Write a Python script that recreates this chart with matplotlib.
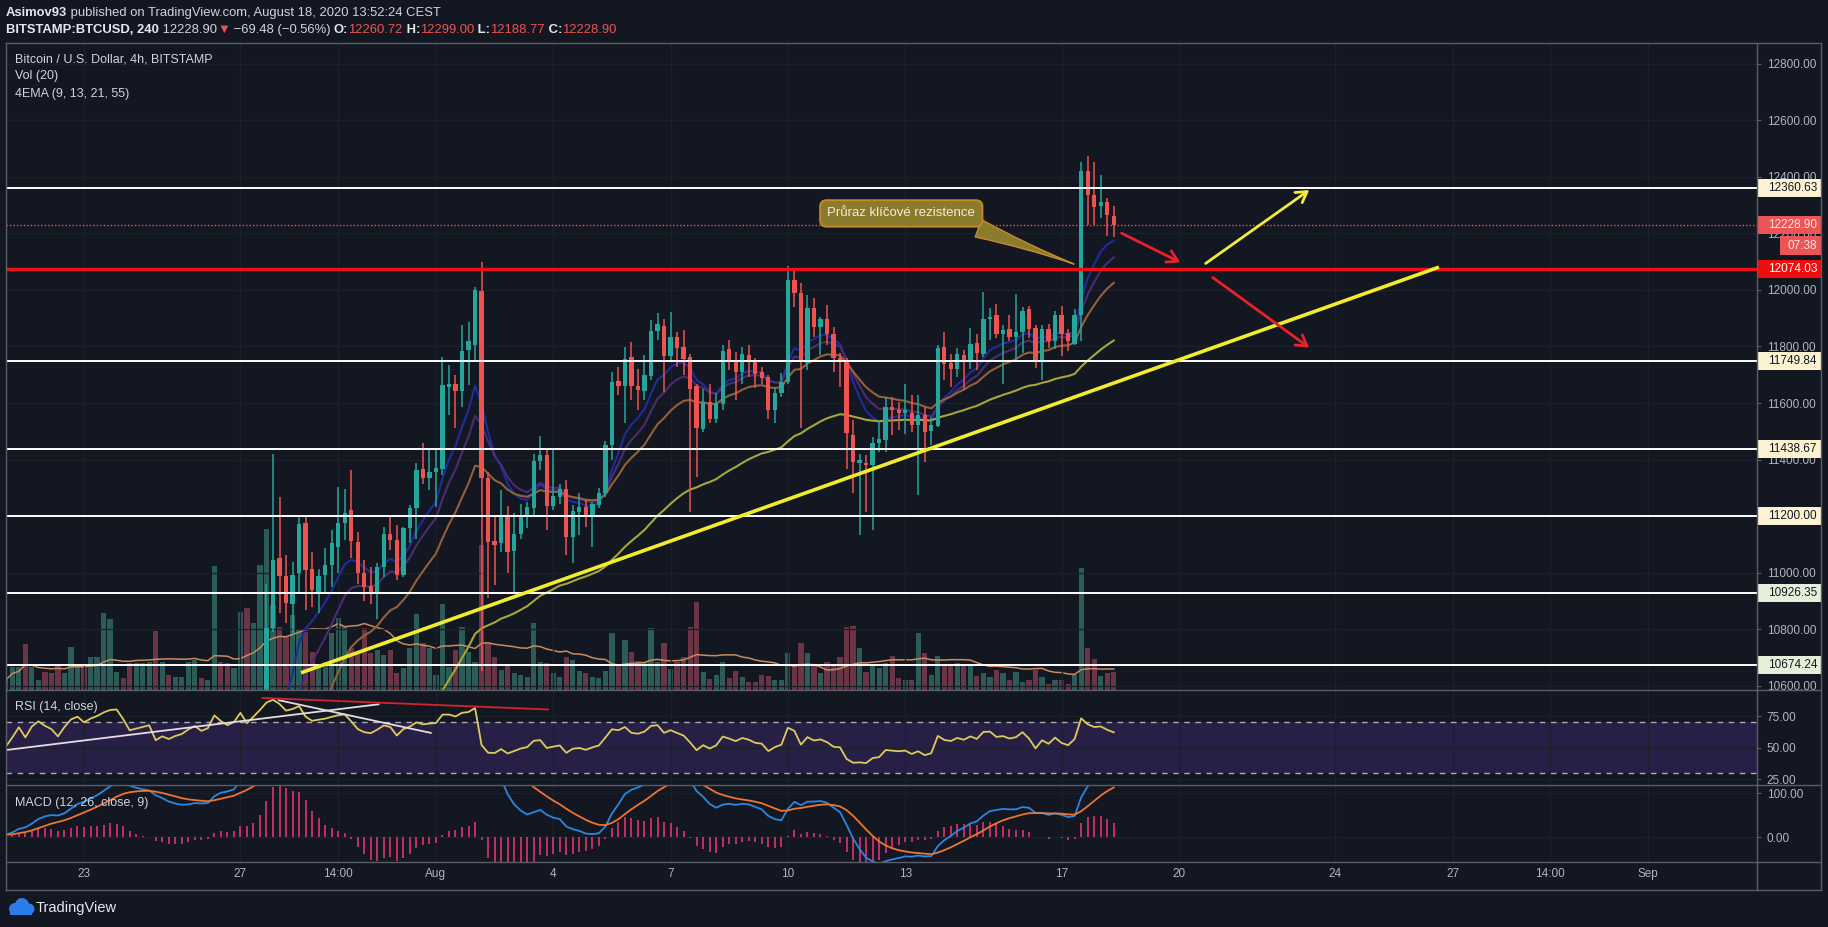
import numpy as np
import pandas as pd
import matplotlib
matplotlib.use("Agg")
import matplotlib.pyplot as plt
from matplotlib.patches import Rectangle, Circle
from matplotlib.lines import Line2D
from matplotlib import transforms as mtrans

plt.rcParams['font.family'] = ['Liberation Sans', 'DejaVu Sans']

# ---------------------------------------------------------------- data
start_time = '2020-07-21 00:00'          # first 4h bar on the chart (UTC)
bar_hours = 4

# closes of the bars before the chart (used only to warm up the indicators)
warmup_close = [9130, 9110, 9140, 9160, 9120, 9100, 9120, 9150, 9170, 9140,
                9160, 9180, 9170, 9150, 9160, 9190, 9200, 9170, 9160, 9140,
                9150, 9170, 9160, 9140, 9150, 9170, 9180, 9160, 9150, 9160]

# closes of the first 40 bars (below the visible price range)
early_close = [9190, 9230, 9290, 9250, 9330, 9380,
               9360, 9345, 9310, 9390, 9480, 9520,
               9490, 9540, 9580, 9640, 9690, 9700,
               9650, 9580, 9600, 9620, 9640, 9540,
               9580, 9560, 9590, 9610, 9660, 9700,
               9670, 9700, 9900, 9860, 9830, 9880,
               10080, 9990, 10150, 10380]

# OHLC of the visible candles (bar 40 .. 170)
vis_open = [10380, 10802, 11050, 10988, 10890, 10999, 11176, 11014, 10932, 10990,
            11026, 11091, 11174, 11221, 11109, 10997, 10952, 10932, 11020, 11138,
            11115, 10991, 11156, 11227, 11368, 11333, 11357, 11365, 11657, 11667,
            11643, 11787, 11805, 11997, 11333, 11112, 11103, 11200, 11077, 11138,
            11197, 11227, 11395, 11415, 11235, 11268, 11297, 11126, 11215, 11232,
            11195, 11238, 11280, 11451, 11679, 11660, 11764, 11660, 11643, 11695,
            11856, 11872, 11766, 11834, 11797, 11764, 11661, 11508, 11604, 11545,
            11596, 11790, 11752, 11711, 11770, 11746, 11710, 11693, 11575, 11636,
            11675, 12035, 11990, 11742, 11935, 11870, 11896, 11846, 11758, 11749,
            11486, 11388, 11386, 11380, 11457, 11469, 11587, 11575, 11565, 11565,
            11522, 11557, 11500, 11518, 11799, 11740, 11719, 11770, 11752, 11811,
            11773, 11899, 11913, 11843, 11862, 11833, 11853, 11932, 11866, 11748,
            11862, 11818, 11913, 11848, 11808, 11913, 12420, 12338, 12297, 12310, 12260.72]
vis_high = [10961, 11419, 11268, 11061, 11038, 11197, 11195, 11073, 11011, 11085,
            11152, 11303, 11297, 11362, 11144, 11044, 11020, 11032, 11162, 11195,
            11168, 11162, 11238, 11386, 11459, 11439, 11439, 11764, 11734, 11699,
            11876, 11887, 12010, 12100, 11357, 11197, 11292, 11235, 11209, 11242,
            11250, 11419, 11483, 11433, 11439, 11315, 11329, 11238, 11280, 11256,
            11250, 11298, 11467, 11710, 11728, 11799, 11817, 11722, 11770, 11893,
            11917, 11899, 11923, 11852, 11860, 11775, 11669, 11648, 11669, 11634,
            11805, 11823, 11781, 11799, 11805, 11758, 11728, 11699, 11657, 11705,
            12085, 12076, 12023, 11982, 11970, 11905, 11947, 11870, 11778, 11758,
            11539, 11421, 11415, 11480, 11539, 11622, 11622, 11604, 11667, 11628,
            11628, 11587, 11551, 11805, 11852, 11775, 11793, 11787, 11864, 11846,
            11994, 11935, 11951, 11875, 11913, 11985, 11939, 11945, 11875, 11875,
            11881, 11926, 11945, 11862, 11932, 12452, 12474, 12452, 12407, 12325, 12299.00]
vis_low = [10350, 10790, 10855, 10820, 10785, 10926, 10867, 10879, 10855, 10932,
           10949, 10997, 11115, 11050, 10961, 10900, 10890, 10837, 10985, 11079,
           10973, 10985, 11103, 11120, 11315, 11292, 11232, 11345, 11557, 11510,
           11587, 11663, 11752, 10650, 10908, 10955, 11073, 10997, 10932, 11120,
           11156, 11195, 11362, 11150, 11221, 11244, 11062, 11032, 11132, 11162,
           11091, 11227, 11268, 11398, 11628, 11528, 11610, 11575, 11610, 11681,
           11823, 11640, 11746, 11728, 11699, 11215, 11339, 11498, 11528, 11528,
           11575, 11716, 11610, 11669, 11693, 11652, 11669, 11545, 11528, 11622,
           11669, 11941, 11510, 11716, 11834, 11770, 11805, 11711, 11657, 11368,
           11280, 11132, 11215, 11150, 11427, 11427, 11486, 11504, 11492, 11498,
           11274, 11392, 11451, 11516, 11683, 11657, 11693, 11645, 11722, 11716,
           11764, 11823, 11831, 11666, 11818, 11755, 11778, 11831, 11723, 11681,
           11795, 11790, 11767, 11783, 11805, 11818, 12230, 12230, 12256, 12192, 12188.77]
vis_close = [10802, 11046, 10988, 10893, 10990, 11171, 11008, 10937, 10987, 11028,
             11103, 11174, 11209, 11112, 10997, 10947, 10932, 11020, 11138, 11115,
             10991, 11156, 11227, 11362, 11333, 11357, 11371, 11663, 11667, 11643,
             11785, 11819, 12000, 11333, 11109, 11097, 11200, 11073, 11136, 11197,
             11232, 11395, 11415, 11235, 11270, 11297, 11126, 11217, 11232, 11195,
             11241, 11280, 11451, 11675, 11660, 11754, 11660, 11646, 11699, 11856,
             11879, 11766, 11834, 11793, 11755, 11648, 11510, 11604, 11542, 11601,
             11785, 11752, 11711, 11775, 11749, 11702, 11690, 11575, 11636, 11675,
             12037, 11990, 11750, 11935, 11870, 11896, 11846, 11758, 11746, 11495,
             11392, 11398, 11380, 11457, 11472, 11587, 11575, 11565, 11575, 11522,
             11557, 11498, 11522, 11793, 11738, 11722, 11775, 11752, 11808, 11778,
             11899, 11905, 11846, 11859, 11833, 11853, 11926, 11862, 11748, 11862,
             11818, 11913, 11846, 11818, 11910, 12420, 12335, 12294, 12310, 12264, 12228.90]

# volume of every bar (bar 0 .. 170)
volume = [120, 276, 276, 548, 276, 120, 216, 200, 312, 200,
          520, 280, 280, 400, 400, 928, 852, 220, 140, 320,
          328, 320, 340, 712, 340, 180, 160, 160, 340, 360,
          140, 120, 1488, 340, 320, 260, 940, 980, 800, 1500,
          1932, 1020, 760, 640, 900, 720, 700, 460, 280, 340,
          680, 860, 760, 500, 440, 740, 440, 480, 420, 480,
          208, 260, 500, 908, 560, 500, 180, 1028, 280, 480,
          760, 460, 340, 1740, 560, 400, 240, 300, 200, 180,
          160, 800, 340, 320, 200, 160, 400, 360, 232, 200,
          152, 140, 232, 680, 300, 600, 460, 352, 340, 740,
          340, 560, 252, 340, 400, 760, 1060, 220, 128, 180,
          340, 140, 232, 152, 100, 100, 180, 172, 120, 120,
          448, 300, 568, 448, 300, 208, 340, 300, 400, 760,
          768, 508, 220, 300, 260, 328, 408, 140, 120, 120,
          688, 448, 180, 408, 288, 300, 328, 300, 300, 168,
          208, 160, 240, 208, 120, 220, 100, 120, 240, 160,
          72, 120, 120, 72, 180, 1460, 500, 368, 168, 208, 220]

ema_periods = [9, 13, 21, 55]
ema_colors = ['#1f2c9c', '#4b2c72', '#93603a', '#a7a63a']

price_ticks = [10600, 10800, 11000, 11200, 11400, 11600, 11800, 12000, 12200, 12400, 12600, 12800]
rsi_ticks = [25, 50, 75]
macd_ticks = [0, 100]

time_tick_times = ['2020-07-23 00:00', '2020-07-27 00:00', '2020-07-29 12:00', '2020-08-01 00:00',
                   '2020-08-04 00:00', '2020-08-07 00:00', '2020-08-10 00:00', '2020-08-13 00:00',
                   '2020-08-17 00:00', '2020-08-20 00:00', '2020-08-24 00:00', '2020-08-27 00:00',
                   '2020-08-29 12:00', '2020-09-01 00:00']
time_tick_labels = ['23', '27', '14:00', 'Aug', '4', '7', '10', '13', '17', '20', '24', '27', '14:00', 'Sep']

levels_cream = [12360.63, 11749.84, 11438.67, 11200.00]
levels_green = [10926.35, 10674.24]
level_red = 12074.03
last_price = 12228.90
countdown = '07:38'

# author's drawings: (bar index, value) end points
trend_line = [(45.3, 10645), (219.9, 12081)]
arrow_red1 = [(171.2, 12201), (180.2, 12098)]
arrow_yellow = [(184.1, 12094), (200.0, 12354)]
arrow_red2 = [(185.2, 12044), (200.0, 11796)]
callout_text = 'Průraz klíčové rezistence'
callout_at = (137.4, 12271)
callout_tip = (164.3, 12088.5)
rsi_white1 = [(0.1, 48.2), (57.2, 84.3)]
rsi_white2 = [(41.9, 87.5), (65.2, 61.7)]
rsi_red = [(39.4, 89.3), (83.2, 80.2)]

# ---------------------------------------------------------------- derived series
n_early = len(early_close)
n_bars = n_early + len(vis_close)
t0 = pd.Timestamp(start_time)
times = pd.date_range(t0, periods=n_bars, freq=f'{bar_hours}h')
idx = ((times - t0) / pd.Timedelta(hours=bar_hours)).values.astype(float)
vis_idx = idx[n_early:]

close_all = np.array(early_close + vis_close, dtype=float)
open_all = np.concatenate([[warmup_close[-1]], np.array(early_close[:-1], float), np.array(vis_open, float)])
full_close = pd.Series(warmup_close + early_close + vis_close, dtype=float)
nw = len(warmup_close)

emas = [full_close.ewm(span=p, adjust=False).mean().values[nw:] for p in ema_periods]

delta = full_close.diff()
gain = delta.clip(lower=0).ewm(alpha=1 / 14, adjust=False).mean()
loss = (-delta.clip(upper=0)).ewm(alpha=1 / 14, adjust=False).mean()
rsi = (100 - 100 / (1 + gain / loss)).values[nw:]

macd_s = (full_close.ewm(span=12, adjust=False).mean() - full_close.ewm(span=26, adjust=False).mean())
signal_s = macd_s.ewm(span=9, adjust=False).mean()
hist = (macd_s - signal_s).values[nw:]
macd_line = macd_s.values[nw:]
signal_line = signal_s.values[nw:]

vol = np.array(volume, dtype=float)
vol_ma = pd.Series(vol).rolling(20, min_periods=1).mean().values

tick_pos = ((pd.to_datetime(time_tick_times) - t0) / pd.Timedelta(hours=bar_hours)).values.astype(float)

# ---------------------------------------------------------------- style / layout
W, H = 1828, 927
BG = '#131722'
GRID = '#1c202b'
BORDER = '#5a5e69'
TXT = '#d1d4dc'
AXT = '#b2b5be'
UP, DOWN = '#26a69a', '#ef5350'
VOL_UP, VOL_DN = '#2b5c58', '#6b3545'

fig = plt.figure(figsize=(W / 100, H / 100), dpi=100, facecolor=BG)


def rect(x0, y0, x1, y1):
    return [x0 / W, 1 - y1 / H, (x1 - x0) / W, (y1 - y0) / H]


PX0, PX1 = 6, 1757
ax_vol = fig.add_axes(rect(PX0, 43, PX1, 690))
ax = fig.add_axes(rect(PX0, 43, PX1, 690), sharex=ax_vol)
ax_rsi = fig.add_axes(rect(PX0, 690, PX1, 785), sharex=ax_vol)
ax_macd = fig.add_axes(rect(PX0, 785, PX1, 862), sharex=ax_vol)

ax_vol.set_facecolor(BG)
ax.set_facecolor('none')
ax_rsi.set_facecolor(BG)
ax_macd.set_facecolor(BG)
for a in (ax_vol, ax, ax_rsi, ax_macd):
    for s in a.spines.values():
        s.set_visible(False)

ax_vol.set_xlim(0.03, 268.7)
ax_vol.set_xticks(tick_pos)
ax_macd.set_xticks(tick_pos, time_tick_labels)
for a in (ax_vol, ax, ax_rsi):
    a.tick_params(axis='x', length=0, labelbottom=False)
ax_macd.tick_params(axis='x', length=0, pad=4.5, labelcolor=AXT, labelsize=8.5)

# ---- volume
vol_colors = np.where(close_all >= open_all, VOL_UP, VOL_DN)
ax_vol.bar(idx, vol, width=0.8, color=vol_colors, linewidth=0, zorder=1)
ax_vol.plot(idx, vol_ma, color='#c98b5e', lw=1.1, zorder=2)
ax_vol.set_ylim(0, 7764)
ax_vol.set_yticks([])

# ---- price
P_BOT, P_TOP = 10584.1, 12874.3
ax.set_ylim(P_BOT, P_TOP)
ax.yaxis.tick_right()
ax.set_yticks(price_ticks, [f'{v:.2f}' for v in price_ticks])
ax.tick_params(axis='y', length=3, pad=4, color=BORDER, labelcolor=AXT, labelsize=8.5)
ax.grid(True, color=GRID, lw=1, zorder=0)
ax.set_axisbelow(True)

for e, c in zip(emas, ema_colors):
    ax.plot(idx, e, color=c, lw=1.5, zorder=3)

vo, vh, vl, vc = (np.array(a, float) for a in (vis_open, vis_high, vis_low, vis_close))
cc = np.where(vc >= vo, UP, DOWN)
ax.vlines(vis_idx, np.minimum(vl, np.minimum(vo, vc)), np.maximum(vh, np.maximum(vo, vc)),
          colors=cc, lw=1.1, zorder=4)
body_lo = np.minimum(vo, vc)
body_h = np.maximum(np.abs(vc - vo), 3.0)
ax.bar(vis_idx, body_h, bottom=body_lo, width=0.66, color=cc, linewidth=0, zorder=4.5)

for lv in levels_cream + levels_green:
    ax.axhline(lv, color='#ffffff', lw=1.4, zorder=5)
ax.axhline(level_red, color='#f01010', lw=2.4, zorder=5)
ax.axhline(last_price, color='#ef5350', lw=1.0, ls=(0, (1, 1.5)), zorder=5)

ax.plot([p[0] for p in trend_line], [p[1] for p in trend_line], color='#f2ec2e', lw=2.6, zorder=6,
        solid_capstyle='butt')

for (p0, p1), col in ((arrow_red1, '#e8222a'), (arrow_yellow, '#f2ec3a'), (arrow_red2, '#e8222a')):
    ax.annotate('', xy=p1, xytext=p0, zorder=7,
                arrowprops=dict(arrowstyle='->,head_length=0.75,head_width=0.45', color=col, lw=2.0,
                                shrinkA=0, shrinkB=0))

ax.annotate(callout_text, xy=callout_tip, xytext=callout_at, ha='center', va='center',
            fontsize=9.5, color='#f4ecd4', zorder=8,
            bbox=dict(boxstyle='round,pad=0.55,rounding_size=0.5', fc='#8a7c2c', ec='#c8892c', lw=1.3),
            arrowprops=dict(arrowstyle='wedge,tail_width=1.4,shrink_factor=0.35', fc='#8a7c2c',
                            ec='#c8892c', lw=1.0, relpos=(0.85, 0.05)))

# price axis label boxes
blend = mtrans.blended_transform_factory(ax.transAxes, ax.transData)
ppx = (P_TOP - P_BOT) / (690 - 43)


def price_label(value, text, fc, tc, x0=1757, x1=1821, y_off_px=0.0, half=9.0):
    yc = value - y_off_px * ppx
    fx0 = (x0 - PX0) / (PX1 - PX0)
    fx1 = (x1 - PX0) / (PX1 - PX0)
    ax.add_patch(Rectangle((fx0, yc - half * ppx), fx1 - fx0, 2 * half * ppx, transform=blend,
                           fc=fc, ec='none', clip_on=False, zorder=20))
    tx = fx0 + (11 if x0 == 1757 else 8) / (PX1 - PX0)
    ax.text(tx, yc, text, transform=blend, ha='left', va='center', color=tc, fontsize=8.5,
            clip_on=False, zorder=21)


for lv in levels_cream:
    price_label(lv, f'{lv:.2f}', '#fcf2d2', '#131722')
for lv in levels_green:
    price_label(lv, f'{lv:.2f}', '#e2f0da', '#131722')
price_label(level_red, f'{level_red:.2f}', '#f20d0d', '#ffffff')
price_label(last_price, f'{last_price:.2f}', '#ec5456', '#fbe6e6')
price_label(last_price, countdown, '#ec5456', '#fbe6e6', x0=1780, y_off_px=20.5, half=9.5)

# ---- RSI
R_BOT, R_TOP = 20.54, 95.58
ax_rsi.set_ylim(R_BOT, R_TOP)
ax_rsi.axhspan(30, 70, color='#281f47', lw=0, zorder=0.5)
for lv in (30, 70):
    ax_rsi.axhline(lv, color='#a9abb3', lw=1.0, ls=(0, (4, 4)), zorder=1)
ax_rsi.plot(idx, rsi, color='#dccb5a', lw=1.3, zorder=3)
for seg, col in ((rsi_white1, '#e6dbe3'), (rsi_white2, '#e6dbe3'), (rsi_red, '#d4232a')):
    ax_rsi.plot([p[0] for p in seg], [p[1] for p in seg], color=col, lw=1.3, zorder=4)
ax_rsi.yaxis.tick_right()
ax_rsi.set_yticks(rsi_ticks, [f'{v:.2f}' for v in rsi_ticks])
ax_rsi.tick_params(axis='y', length=3, pad=4, color=BORDER, labelcolor=AXT, labelsize=8.5)
ax_rsi.grid(True, color=GRID, lw=1, zorder=0)
ax_rsi.set_axisbelow(True)

# ---- MACD
ax_macd.set_ylim(-56.1, 118.9)
ax_macd.vlines(idx, 0, hist, colors='#e2336f', lw=1.2, zorder=2)
ax_macd.plot(idx, macd_line, color='#2a86e0', lw=1.3, zorder=3)
ax_macd.plot(idx, signal_line, color='#ee7430', lw=1.3, zorder=3)
ax_macd.yaxis.tick_right()
ax_macd.set_yticks(macd_ticks, [f'{v:.2f}' for v in macd_ticks])
ax_macd.tick_params(axis='y', length=3, pad=4, color=BORDER, labelcolor=AXT, labelsize=8.5)
ax_macd.grid(True, color=GRID, lw=1, zorder=0)
ax_macd.set_axisbelow(True)


# ---------------------------------------------------------------- frame lines
def hline_px(y, x0=6, x1=1821, color=BORDER, lw=1.0):
    fig.add_artist(Line2D([x0 / W, x1 / W], [1 - y / H, 1 - y / H], color=color, lw=lw,
                          transform=fig.transFigure))


def vline_px(x, y0=43, y1=890, color=BORDER, lw=1.0):
    fig.add_artist(Line2D([x / W, x / W], [1 - y0 / H, 1 - y1 / H], color=color, lw=lw,
                          transform=fig.transFigure))


for y in (43, 690, 785, 862, 890):
    hline_px(y)
for x in (6, 1757, 1821):
    vline_px(x)

# ---------------------------------------------------------------- texts
renderer = fig.canvas.get_renderer()


def chain(parts, x, y, size):
    for s, col, wt in parts:
        t = fig.text(x / W, 1 - y / H, s, color=col, fontsize=size, fontweight=wt, va='center', ha='left')
        x += t.get_window_extent(renderer).width


chain([('Asimov93', '#e6e8ee', 'bold'),
       (' published on TradingView.com, August 18, 2020 13:52:24 CEST', TXT, 'normal')], 6, 13, 9.4)
chain([('BITSTAMP:BTCUSD, 240', '#e6e8ee', 'bold'), (' 12228.90', TXT, 'normal'),
       ('▼', '#ef5350', 'normal'), (' −69.48 (−0.56%) ', TXT, 'normal'),
       ('O:', '#e6e8ee', 'bold'), ('12260.72', '#ef5350', 'normal'),
       (' H:', '#e6e8ee', 'bold'), ('12299.00', '#ef5350', 'normal'),
       (' L:', '#e6e8ee', 'bold'), ('12188.77', '#ef5350', 'normal'),
       (' C:', '#e6e8ee', 'bold'), ('12228.90', '#ef5350', 'normal')], 6, 30, 9.4)

for s, y in (('Bitcoin / U.S. Dollar, 4h, BITSTAMP', 59.5), ('Vol (20)', 76.5), ('4EMA (9, 13, 21, 55)', 93.5)):
    fig.text(15 / W, 1 - y / H, s, color=TXT, fontsize=9.0, va='center', ha='left')
fig.text(15 / W, 1 - 707 / H, 'RSI (14, close)', color=TXT, fontsize=9.0, va='center', ha='left')
fig.text(15 / W, 1 - 803 / H, 'MACD (12, 26, close, 9)', color=TXT, fontsize=9.0, va='center', ha='left')

# TradingView watermark
for cx, cy, r in ((15, 909, 6), (22, 905, 7), (29, 909, 5.5)):
    fig.add_artist(Circle((cx / 100, (H - cy) / 100), r / 100, transform=fig.dpi_scale_trans,
                          fc='#2b7de9', ec='none'))
fig.add_artist(Rectangle((10 / 100, (H - 915) / 100), 22 / 100, 6 / 100, transform=fig.dpi_scale_trans,
                         fc='#2b7de9', ec='none'))
fig.text(36 / W, 1 - 908 / H, 'TradingView', color='#e6e8ee', fontsize=10.5, va='center', ha='left')

fig.savefig('out.png', dpi=100, facecolor=BG)
